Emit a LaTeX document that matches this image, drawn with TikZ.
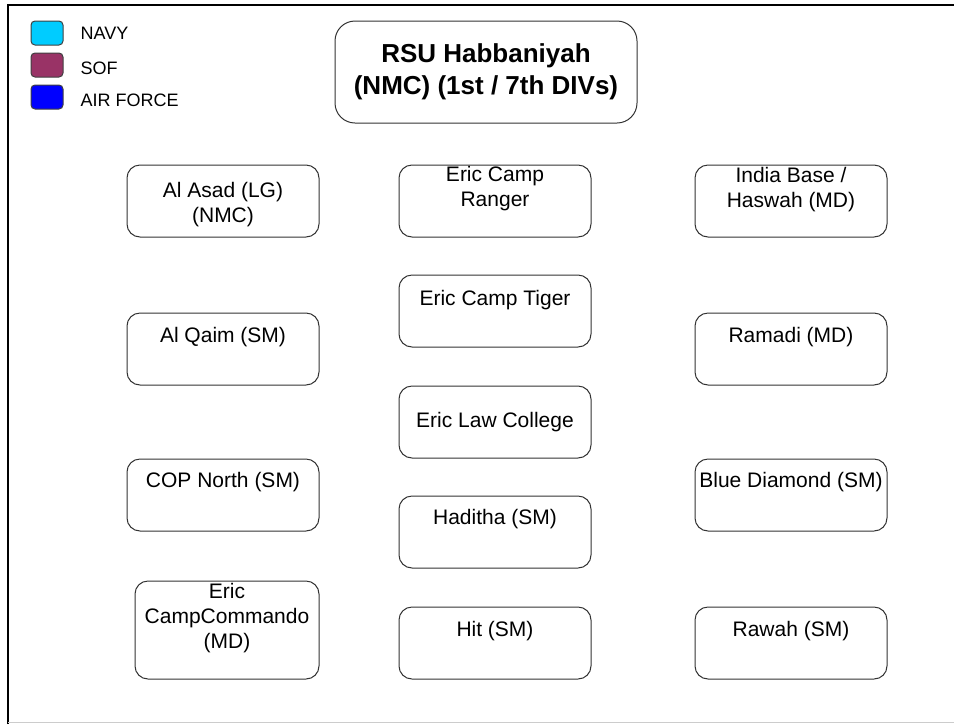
\documentclass[tikz,border=0pt]{standalone}
\usepackage{fontspec}
\setmainfont{Liberation Sans}
\usetikzlibrary{positioning}

\definecolor{navycol}{HTML}{00CCFF}
\definecolor{sofcol}{HTML}{993366}
\definecolor{aircol}{HTML}{0000FF}

\tikzset{
  site/.style={draw=black!80, line width=1pt, rounded corners=13pt,
    minimum width=192pt, minimum height=72pt, inner sep=0pt},
  sitetext/.style={font=\fontsize{21}{25}\selectfont, align=center, inner sep=0pt},
  swatch/.style={draw=black!75, line width=1pt, rounded corners=4pt,
    minimum width=32pt, minimum height=24pt, inner sep=0pt},
  legendtext/.style={font=\fontsize{18}{20}\selectfont, inner sep=0pt}
}

\begin{document}
\begin{tikzpicture}[x=1pt, y=-1pt]

\useasboundingbox (0,0) rectangle (954,724);

% Draw the frame
\draw[line width=2pt] (8,724) -- (8,5) -- (954,5);
\draw[black!20, line width=1.5pt] (8,722.5) -- (954,722.5);

% Draw the legend
\foreach \col/\txt/\dy [count=\i] in {navycol/NAVY/0, sofcol/SOF/-3, aircol/AIR FORCE/-3} {
  \node[swatch, fill=\col] (sw\i) at (47,1+32*\i) {};
  \node[legendtext, right=17pt of sw\i, yshift=\dy pt] (lg\i) {\txt};
}

% Draw the head box
\node[site, minimum width=302pt, minimum height=102pt, rounded corners=20pt,
  font=\fontsize{26}{32}\selectfont\bfseries, align=center] (hq) at (486,72)
  {RSU Habbaniyah\\(NMC) (1st / 7th DIVs)};

% Left column
\node[site] (asad) at (223,201) {};
\node[sitetext] (asadtxt) at ([yshift=-40pt]asad.north) {Al Asad (LG)\\(NMC)};
\node[site] (qaim) at (223,349) {};
\node[sitetext] (qaimtxt) at ([yshift=-25pt]qaim.north) {Al Qaim (SM)};
\node[site] (cop) at (223,495) {};
\node[sitetext] (coptxt) at ([yshift=-24pt]cop.north) {COP North (SM)};
\node[site, minimum width=184pt, minimum height=98pt] (commando) at (227,630) {};
\node[sitetext] (commandotxt) at ([yshift=-38pt]commando.north) {Eric\\CampCommando\\(MD)};

% Middle column
\node[site] (ranger) at (495,201) {};
\node[sitetext] (rangertxt) at ([yshift=-24pt]ranger.north) {Eric Camp\\Ranger};
\node[site] (tiger) at (495,311) {};
\node[sitetext] (tigertxt) at ([yshift=-26pt]tiger.north) {Eric Camp Tiger};
\node[site] (law) at (495,422) {};
\node[sitetext] (lawtxt) at ([yshift=-37pt]law.north) {Eric Law College};
\node[site] (haditha) at (495,532) {};
\node[sitetext] (hadithatxt) at ([yshift=-24pt]haditha.north) {Haditha (SM)};
\node[site] (hit) at (495,643) {};
\node[sitetext] (hittxt) at ([yshift=-25pt]hit.north) {Hit (SM)};

% Right column
\node[site] (india) at (791,201) {};
\node[sitetext] (indiatxt) at ([yshift=-25pt]india.north) {India Base /\\Haswah (MD)};
\node[site] (ramadi) at (791,349) {};
\node[sitetext] (ramaditxt) at ([yshift=-25pt]ramadi.north) {Ramadi (MD)};
\node[site] (blue) at (791,495) {};
\node[sitetext] (bluetxt) at ([yshift=-24pt]blue.north) {Blue Diamond (SM)};
\node[site] (rawah) at (791,643) {};
\node[sitetext] (rawahtxt) at ([yshift=-25pt]rawah.north) {Rawah (SM)};

\end{tikzpicture}
\end{document}
